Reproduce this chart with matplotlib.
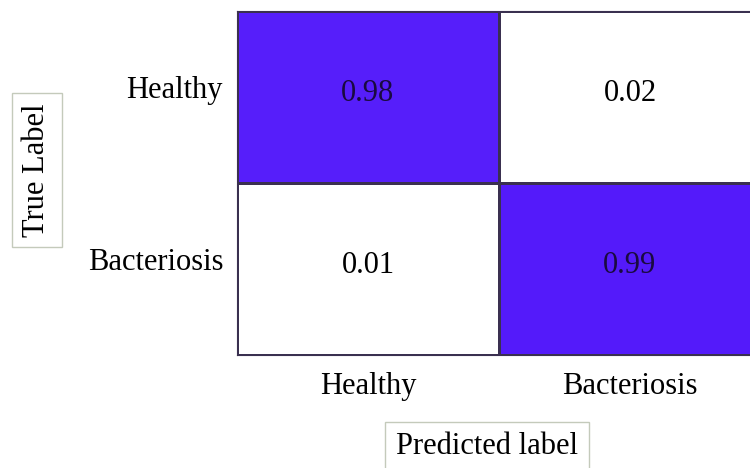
import numpy as np
import matplotlib.pyplot as plt
import matplotlib.transforms as mtransforms
from matplotlib.colors import LinearSegmentedColormap

classes = ["Healthy", "Bacteriosis"]
matriz = np.array([[0.98, 0.02],
                   [0.01, 0.99]])

plt.rcParams['font.family'] = ['Liberation Serif', 'DejaVu Serif']

# low values stay plain white, high values go to the violet blue
cmap = LinearSegmentedColormap.from_list("azul", [(0.0, "#ffffff"), (0.2, "#ffffff"), (1.0, "#5218fa")])

fig = plt.figure(figsize=(7.5, 4.68), dpi=100)
# the matrix runs past the right edge of the picture, like the original
ax = fig.add_axes([237 / 750, 1 - 355 / 468, 524 / 750, 344 / 468])

ax.pcolormesh(matriz, cmap=cmap, vmin=0.0, vmax=1.0,
              edgecolors="#3a3050", linewidth=0.8)
ax.set_xlim(0, len(classes))
ax.set_ylim(len(classes), 0)

for i in range(len(classes)):
    for j in range(len(classes)):
        cor = "#1a0a40" if matriz[i, j] > 0.5 else "black"
        ax.text(j + 0.5, i + 0.48, f"{matriz[i, j]:.2f}", ha="center", va="center",
                fontsize=22, color=cor)

ax.set_xticks(np.arange(len(classes)) + 0.5)
ax.set_yticks(np.arange(len(classes)) + 0.5)
ax.set_xticklabels(classes, fontsize=22)
ax.set_yticklabels(classes, fontsize=22)
ax.tick_params(length=0)
ax.tick_params(axis="y", pad=10)
ax.tick_params(axis="x", pad=12)
desce = mtransforms.ScaledTranslation(0, -8 / 100, fig.dpi_scale_trans)
for lab in ax.get_yticklabels():
    lab.set_verticalalignment("bottom")
    lab.set_transform(lab.get_transform() + desce)
for s in ax.spines.values():
    s.set_color("#3a3050")
    s.set_linewidth(0.8)

caixa = dict(boxstyle="square,pad=0.35", facecolor="white", edgecolor="#c4cabb", linewidth=1)
fig.text(37 / 750, 1 - 170 / 468, "True Label", rotation=90, ha="center", va="center",
         fontsize=22, bbox=caixa)
fig.text(487 / 750, 1 - 447 / 468, "Predicted label", ha="center", va="center",
         fontsize=22, bbox=caixa)

fig.savefig("out.png", dpi=100)
plt.close(fig)
